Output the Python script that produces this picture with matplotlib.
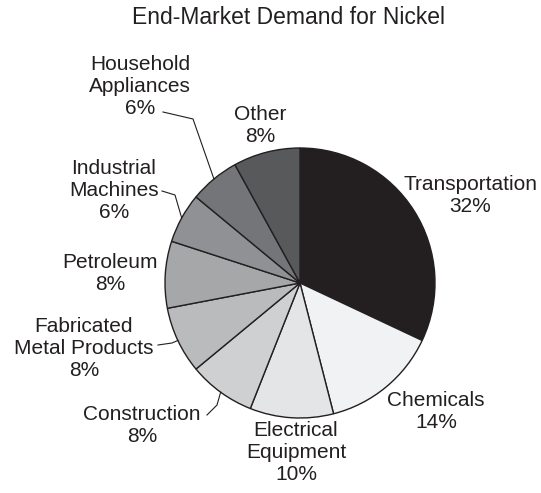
import numpy as np
import matplotlib
matplotlib.use("Agg")
import matplotlib.pyplot as plt

plt.rcParams['font.family'] = ['Liberation Sans', 'DejaVu Sans']

# end-market shares, clockwise from 12 o'clock
sectors = ['Transportation', 'Chemicals', 'Electrical\nEquipment', 'Construction',
           'Fabricated\nMetal Products', 'Petroleum', 'Industrial\nMachines',
           'Household\nAppliances', 'Other']
shares = [32, 14, 10, 8, 8, 8, 6, 6, 8]
shades = ['#231f20', '#f1f2f3', '#e4e5e6', '#cfd0d2', '#b9bbbd',
          '#a5a7a9', '#8f9194', '#747578', '#58595b']

W, H = 541, 493
ink = '#231f20'

fig = plt.figure(figsize=(W / 100, H / 100), dpi=100)
ax = fig.add_axes([0, 0, 1, 1])

cx, cy, r = 300, H - 283, 135
ax.pie(shares, colors=shades, startangle=90, counterclock=False,
       center=(cx, cy), radius=r, frame=True,
       wedgeprops=dict(edgecolor=ink, linewidth=1.0))

ax.set_xlim(0, W)
ax.set_ylim(0, H)
ax.set_aspect('equal')
ax.axis('off')

fig.text(288 / W, 1 - 18 / H, 'End-Market Demand for Nickel', ha='center', va='center',
         fontsize=16.5, color=ink)

# label centres in pixel coordinates (x, y from top)
label_pos = [(470, 195), (436, 412), (296, 453), (142, 425), (84, 348),
             (110, 274), (114, 191), (140, 86), (260, 125)]
# elbow paths for labels that need a leader line
leaders = {3: [(207, 415), (217, 405)], 4: [(158, 345), (172, 343)],
           6: [(162, 191), (175, 195)], 7: [(163, 112), (193, 119)]}

total = sum(shares)
start = 90.0
for i, (name, v) in enumerate(zip(sectors, shares)):
    mid = start - v / total * 360 / 2
    start -= v / total * 360
    lx, ly = label_pos[i]
    ax.text(lx, H - ly, f'{name}\n{v}%', ha='center', va='center',
            fontsize=15, color=ink, linespacing=1.2)
    if i in leaders:
        ex = cx + r * np.cos(np.radians(mid))
        ey = cy + r * np.sin(np.radians(mid))
        pts = [(x, H - y) for x, y in leaders[i]] + [(ex, ey)]
        xs, ys = zip(*pts)
        ax.plot(xs, ys, color=ink, linewidth=0.8)

fig.savefig('out.png', dpi=100)
